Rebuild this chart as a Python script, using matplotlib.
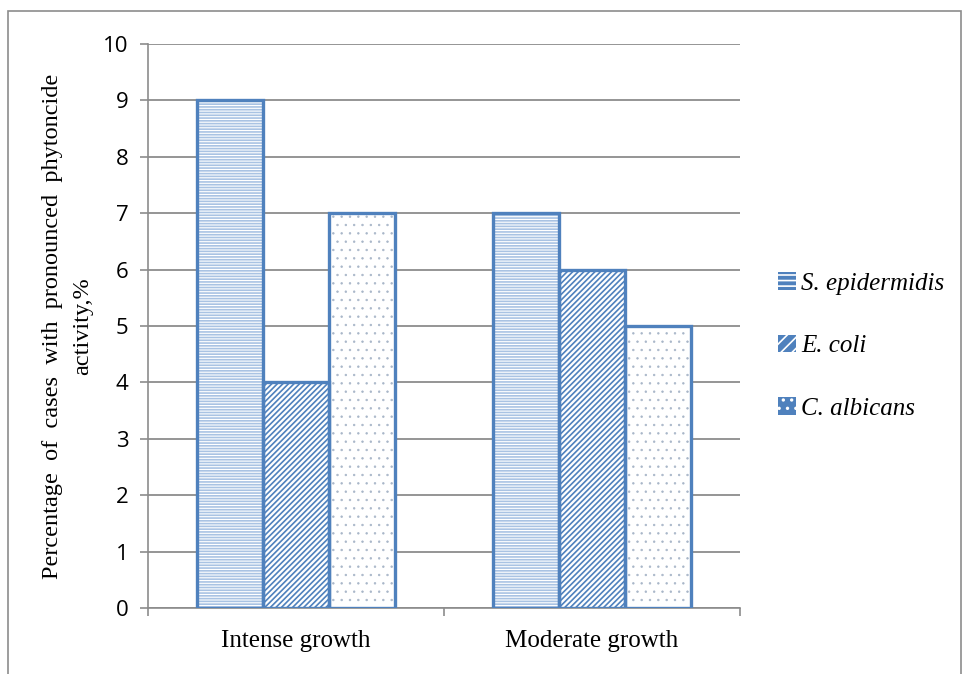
import numpy as np
import matplotlib
matplotlib.use("Agg")
import matplotlib.pyplot as plt
from matplotlib.patches import Rectangle

categories = ["Intense growth", "Moderate growth"]
series = ["S. epidermidis", "E. coli", "C. albicans"]
values = {
    "S. epidermidis": [9, 7],
    "E. coli": [4, 6],
    "C. albicans": [7, 5],
}
yticks = list(range(0, 11))

edge = "#4F81BD"
hatches = {"S. epidermidis": "------", "E. coli": "//////", "C. albicans": ".."}
hatch_cols = {"S. epidermidis": "#A9C3E3", "E. coli": "#4F81BD", "C. albicans": "#A8B6C8"}
hatch_lw = {"S. epidermidis": 1.2, "E. coli": 1.2, "C. albicans": 0.5}

fig = plt.figure(figsize=(9.63, 6.74), dpi=100)
fig.patches.append(Rectangle((0.008, -0.01), 0.99, 0.994, transform=fig.transFigure,
                             fill=False, edgecolor="#8c8c8c", linewidth=1.2))
ax = fig.add_axes([0.1537, 0.0979, 0.6147, 0.8368])

x = np.arange(len(categories))
w = 0.223
handles = []
for i, s in enumerate(series):
    pos = x + (i - 1) * w
    plt.rcParams["hatch.linewidth"] = hatch_lw[s]
    ax.bar(pos, values[s], w, color="white", hatch=hatches[s], edgecolor=hatch_cols[s],
           linewidth=0, zorder=3)
    ax.bar(pos, values[s], w, fill=False, edgecolor=edge, linewidth=2.4, zorder=4)
    plt.rcParams["hatch.linewidth"] = 1.2
    handles.append(Rectangle((0, 0), 1, 1, facecolor=edge, hatch=hatches[s][:3],
                             edgecolor="white", linewidth=0))

ax.set_xlim(-0.5, 1.5)
ax.set_ylim(0, 10)
ax.set_yticks(yticks)
ax.set_yticklabels([str(t) for t in yticks], fontfamily="Open Sans", fontsize=16)
ax.yaxis.grid(True, color="#8c8c8c", linewidth=1.3, zorder=0)
ax.set_axisbelow(True)
ax.set_xticks(x)
ax.set_xticklabels(categories, fontfamily="Liberation Serif", fontsize=18)
ax.set_xticks([-0.5, 0.5, 1.5], minor=True)
ax.tick_params(axis="x", which="major", length=0, pad=16)
ax.tick_params(axis="x", which="minor", length=6, color="#8c8c8c", width=1.2)
ax.tick_params(axis="y", length=6, color="#8c8c8c", width=1.2, pad=8)
for sp in ["top", "right"]:
    ax.spines[sp].set_visible(False)
for sp in ["left", "bottom"]:
    ax.spines[sp].set_color("#8c8c8c")
    ax.spines[sp].set_linewidth(1.2)

ax.set_ylabel("Percentage  of  cases  with  pronounced  phytoncide\nactivity,%",
              fontfamily="Liberation Serif", fontsize=17.5, labelpad=7, linespacing=1.6)

leg = fig.legend(handles, series, loc="center left", bbox_to_anchor=(0.785, 0.487),
                 frameon=False, prop={"family": "Liberation Serif", "style": "italic", "size": 18},
                 handlelength=0.7, handleheight=0.7, handletextpad=0.2, labelspacing=1.6)

fig.savefig("out.png", dpi=100)
